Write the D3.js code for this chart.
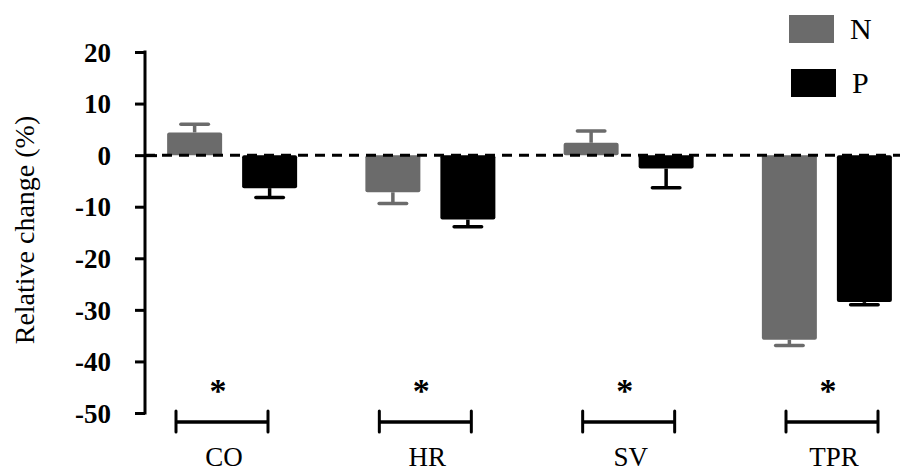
<!DOCTYPE html>
<html>
<head>
<meta charset="utf-8">
<script src="https://cdn.jsdelivr.net/npm/d3@7"></script>
<style>
  html, body { margin: 0; padding: 0; background: #fff; }
  svg { display: block; }
  text { font-family: "Liberation Serif", "Times New Roman", serif; fill: #000; }
</style>
</head>
<body>
<svg id="chart" width="900" height="472"></svg>
<script>
// ---- data ----
const categories = ["CO", "HR", "SV", "TPR"];
const seriesNames = ["N", "P"];
const valuesN = [4.4, -7.2, 2.4, -35.8];
const errorsN = [1.6, 2.2, 2.3, 1.1];
const valuesP = [-6.4, -12.5, -2.6, -28.5];
const errorsP = [1.8, 1.4, 3.7, 0.5];
const yTicks = [20, 10, 0, -10, -20, -30, -40, -50];
const significance = ["*", "*", "*", "*"];

const colors = { N: "#6b6b6b", P: "#000000" };

const svg = d3.select("#chart");

const y = d3.scaleLinear().domain([-50, 20]).range([413, 52]);
const x0 = d3.scaleBand().domain(categories).range([133, 926]).paddingInner(0).paddingOuter(0);
const x1 = d3.scaleBand().domain(seriesNames).range([-65, 65]).paddingInner(0.2667).paddingOuter(0);
const xa = d3.scalePoint().domain(categories).range([222, 832]);

const axisX = 145;

// y axis
const yAxis = d3.axisLeft(y).tickValues(yTicks).tickSize(10).tickSizeOuter(0).tickPadding(24)
  .tickFormat(d => d);
const gy = svg.append("g").attr("transform", `translate(${axisX},0)`).call(yAxis);
gy.select(".domain").attr("stroke", "#000").attr("stroke-width", 3).attr("d", `M0,${y(20)-1.5}V${y(-50)+1.5}`);
gy.selectAll(".tick line").attr("stroke", "#000").attr("stroke-width", 3)
  .attr("x1", d => d === 0 ? 12 : 0);
gy.selectAll(".tick text")
  .style("font-family", '"Liberation Serif", "Times New Roman", serif')
  .style("font-size", "27px").style("font-weight", "bold").attr("fill", "#000")
  .attr("dy", "0.34em");

// y title
svg.append("text")
  .attr("transform", `translate(34,230) rotate(-90)`)
  .attr("text-anchor", "middle")
  .style("font-size", "28px")
  .text("Relative change (%)");

// bars
const rows = categories.map((c, i) => ({
  cat: c,
  items: [
    { s: "N", v: valuesN[i], e: errorsN[i] },
    { s: "P", v: valuesP[i], e: errorsP[i] }
  ]
}));

const groups = svg.append("g").selectAll("g").data(rows).join("g")
  .attr("transform", d => `translate(${x0(d.cat) + x0.bandwidth() / 2},0)`);

groups.selectAll("rect").data(d => d.items).join("rect")
  .attr("x", d => x1(d.s))
  .attr("width", x1.bandwidth())
  .attr("y", d => y(Math.max(0, d.v)))
  .attr("height", d => Math.abs(y(d.v) - y(0)))
  .attr("rx", 2)
  .attr("fill", d => colors[d.s]);

// error bars
groups.each(function(d) {
  const g = d3.select(this);
  d.items.forEach(it => {
    const cx = x1(it.s) + x1.bandwidth() / 2;
    const end = it.v >= 0 ? it.v + it.e : it.v - it.e;
    g.append("line")
      .attr("x1", cx).attr("x2", cx)
      .attr("y1", y(it.v)).attr("y2", y(end))
      .attr("stroke", colors[it.s]).attr("stroke-width", 3.5);
    g.append("line")
      .attr("x1", cx - x1.bandwidth() / 4).attr("x2", cx + x1.bandwidth() / 4)
      .attr("y1", y(end)).attr("y2", y(end))
      .attr("stroke", colors[it.s]).attr("stroke-width", 3.5).attr("stroke-linecap", "round");
  });
});

// zero dashed line
svg.append("line")
  .attr("x1", axisX).attr("x2", 900)
  .attr("y1", y(0)).attr("y2", y(0))
  .attr("stroke", "#000").attr("stroke-width", 3)
  .attr("stroke-dasharray", "10,7");

// significance brackets
const halfBracket = 46;
const ann = svg.append("g").selectAll("g").data(categories).join("g")
  .attr("transform", c => `translate(${xa(c)},0)`);
ann.append("line")
  .attr("x1", -halfBracket).attr("x2", halfBracket)
  .attr("y1", 422).attr("y2", 422)
  .attr("stroke", "#000").attr("stroke-width", 3.5);
ann.append("line")
  .attr("x1", -halfBracket).attr("x2", -halfBracket)
  .attr("y1", 411).attr("y2", 432)
  .attr("stroke", "#000").attr("stroke-width", 3).attr("stroke-linecap", "round");
ann.append("line")
  .attr("x1", halfBracket).attr("x2", halfBracket)
  .attr("y1", 411).attr("y2", 432)
  .attr("stroke", "#000").attr("stroke-width", 3).attr("stroke-linecap", "round");
ann.append("text")
  .attr("x", -4).attr("y", 402)
  .attr("text-anchor", "middle")
  .style("font-size", "34px").style("font-weight", "bold")
  .text((c, i) => significance[i]);

// x labels
svg.append("g").selectAll("text").data(categories).join("text")
  .attr("x", c => xa(c) + 2)
  .attr("y", 466)
  .attr("text-anchor", "middle")
  .style("font-size", "27px")
  .text(c => c);

// legend
const legend = svg.append("g").selectAll("g").data(seriesNames).join("g")
  .attr("transform", (s, i) => `translate(${789 + i * 2},${15 + i * 54})`);
legend.append("rect")
  .attr("width", 45).attr("height", 28)
  .attr("fill", s => colors[s]);
legend.append("text")
  .attr("x", 61).attr("y", 24)
  .style("font-size", "30px")
  .text(s => s);
</script>
</body>
</html>
